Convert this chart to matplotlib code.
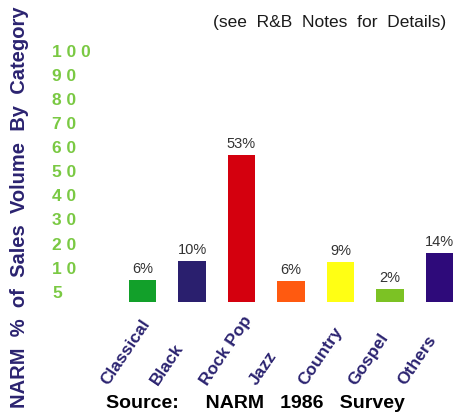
import matplotlib.pyplot as plt
from matplotlib.transforms import offset_copy

# data
categories = ['Classical', 'Black', 'Rock Pop', 'Jazz', 'Country', 'Gospel', 'Others']
pct_labels = [6, 10, 53, 6, 9, 2, 14]
# drawn bar heights, as read against the green axis
bar_heights = [5.5, 13.3, 57.3, 5.0, 12.9, 1.7, 16.6]
tick_labels = [5, 10, 20, 30, 40, 50, 60, 70, 80, 90, 100]
tick_pos = [0, 10, 20, 30, 40, 50, 60, 70, 80, 90, 100]

colors = ['#12a02a', '#2a1f6e', '#d4000e', '#ff5a10', '#ffff14', '#7cc224', '#2e0a7a']
navy = '#2b2370'

plt.rcParams['font.family'] = ['Liberation Sans', 'DejaVu Sans']

fig = plt.figure(figsize=(4.58, 4.12), dpi=100)
W, H = 458, 412
ax = fig.add_axes([100 / W, 110 / H, 358 / W, 262 / H])
base = -3.6
ax.bar(range(len(categories)), [h - base for h in bar_heights], bottom=base,
       width=0.55, color=colors)
ax.set_xlim(-0.859, 6.374)
ax.set_ylim(base, 105)
ax.axis('off')

# percent labels above bars
for i, (h, p) in enumerate(zip(bar_heights, pct_labels)):
    ax.text(i, h + 1.6, f'{p}%', ha='center', va='bottom', fontsize=10.5,
            color='#333333')

# green spaced y tick labels
ytr = ax.get_yaxis_transform()
for v, lab in zip(tick_pos, tick_labels):
    ax.text(-0.134, v, ' '.join(str(lab)), transform=ytr, ha='left',
            va='center', fontsize=12.5, fontweight='bold', color='#7ac943')

# rotated category labels, bottoms roughly aligned
xtr = ax.get_xaxis_transform()
for i, cat in enumerate(categories):
    tr = offset_copy(xtr, fig=fig, x=-32, y=-86, units='dots')
    ax.text(i, 0, cat, transform=tr, rotation=56, rotation_mode='anchor',
            ha='left', va='bottom', fontsize=12.5, fontweight='bold', color=navy)

fig.text(20 / W, 0.4976, 'NARM  %  of  Sales  Volume  By  Category', rotation=90,
         ha='center', va='center', fontsize=14.5, fontweight='bold', color=navy)
fig.text(213 / W, 1 - 27 / H, '(see  R&B  Notes  for  Details)', ha='left',
         va='baseline', fontsize=12.5, color='#1a1a1a')
fig.text(106 / W, 4 / H, 'Source:     NARM   1986   Survey', ha='left',
         va='baseline', fontsize=14, fontweight='bold', color='black')

fig.savefig('out.png', dpi=100)
